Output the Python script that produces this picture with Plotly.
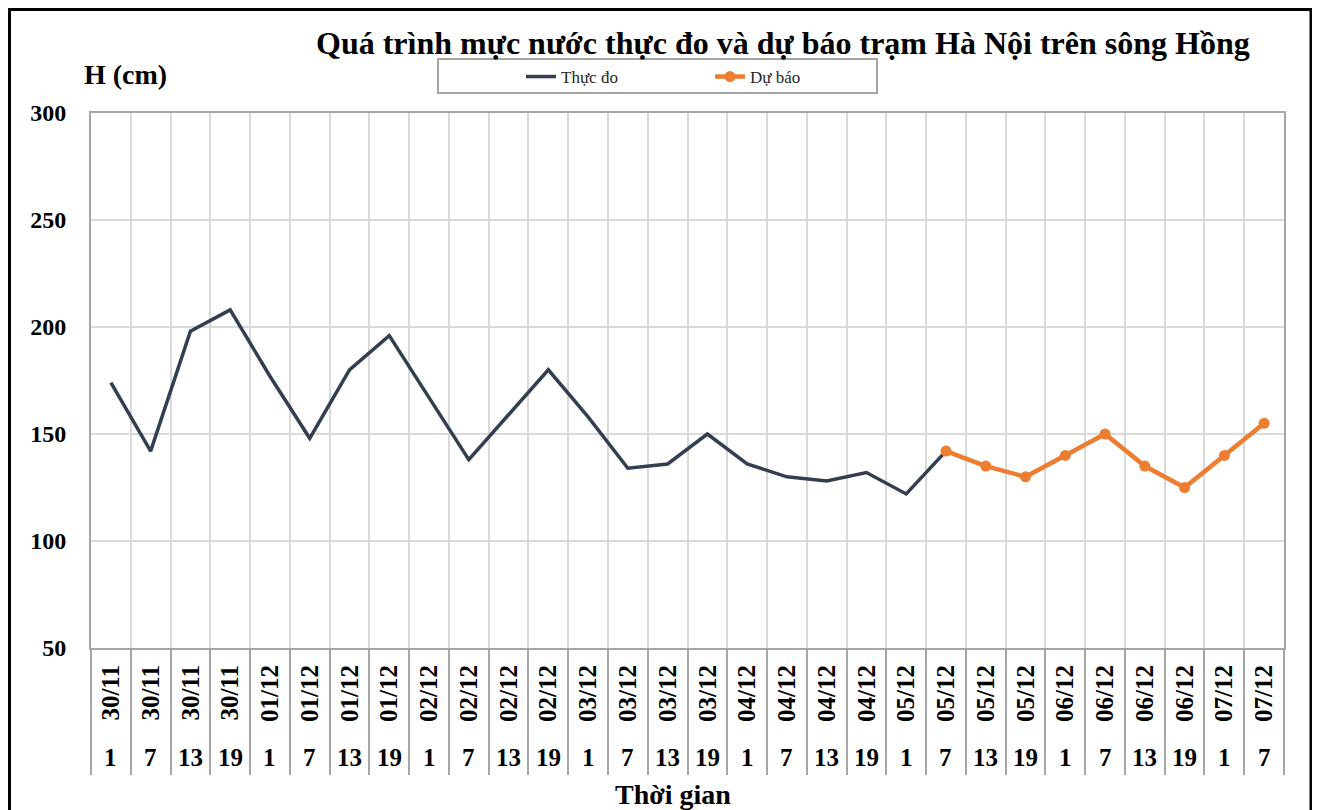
import plotly.graph_objects as go

# ---- data ----
dates = ["30/11", "30/11", "30/11", "30/11", "01/12", "01/12", "01/12", "01/12",
         "02/12", "02/12", "02/12", "02/12", "03/12", "03/12", "03/12", "03/12",
         "04/12", "04/12", "04/12", "04/12", "05/12", "05/12", "05/12", "05/12",
         "06/12", "06/12", "06/12", "06/12", "07/12", "07/12"]
hours = ["1", "7", "13", "19"] * 7 + ["1", "7"]

measured = [174, 142, 198, 208, 177, 148, 180, 196, 167, 138, 159, 180,
            158, 134, 136, 150, 136, 130, 128, 132, 122, 142]
forecast = [142, 135, 130, 140, 150, 135, 125, 140, 155]

title_text = "Quá trình mực nước thực đo và dự báo trạm Hà Nội trên sông Hồng"
y_title = "H (cm)"
x_title = "Thời gian"
series_names = ["Thực đo", "Dự báo"]

# ---- layout geometry (pixels) ----
OFF = 8  # page body margin: figure origin sits at screen (8, 8)
W, H = 1320, 810
SL, SR, ST, SB = 91, 1284, 113, 648  # plot area in screen pixels
L, T = SL - OFF, ST - OFF
R = W - (SR - OFF)
B = H - (SB - OFF)
pw, ph = SR - SL, SB - ST


def px_x(sx):
    return (sx - SL) / pw


def px_y(sy):
    return (SB - sy) / ph


FONT = "Liberation Serif"

n = len(dates)
idx = list(range(n))
x_meas = idx[:len(measured)]
x_fc = idx[n - len(forecast):]

fig = go.Figure()
fig.add_trace(go.Scatter(
    x=x_meas, y=measured, mode="lines", name=series_names[0],
    line=dict(color="#333F50", width=3.5),
))
fig.add_trace(go.Scatter(
    x=x_fc, y=forecast, mode="lines+markers", name=series_names[1],
    line=dict(color="#ED7D31", width=4.5),
    marker=dict(color="#ED7D31", size=11),
))

annotations = [
    dict(text=title_text, x=px_x(783), y=px_y(43), xref="paper", yref="paper",
         showarrow=False, xanchor="center", yanchor="middle",
         font=dict(family=FONT, size=32, color="black", weight="bold")),
    dict(text=y_title, x=px_x(125), y=px_y(74), xref="paper", yref="paper",
         showarrow=False, xanchor="center", yanchor="middle",
         font=dict(family=FONT, size=28, color="black", weight="bold")),
    dict(text=x_title, x=px_x(673), y=px_y(794), xref="paper", yref="paper",
         showarrow=False, xanchor="center", yanchor="middle",
         font=dict(family=FONT, size=28, color="black", weight="bold")),
]
for i, h in enumerate(hours):
    annotations.append(dict(
        text=h, x=i, y=px_y(757), xref="x", yref="paper", showarrow=False,
        xanchor="center", yanchor="middle",
        font=dict(family=FONT, size=25, color="black", weight="bold")))

shapes = [
    # legend box
    dict(type="rect", xref="paper", yref="paper",
         x0=px_x(438), x1=px_x(877), y0=px_y(93), y1=px_y(59),
         line=dict(color="#A6A6A6", width=2), fillcolor="white", layer="below"),
    # outer chart border
    dict(type="rect", xref="paper", yref="paper",
         x0=px_x(9.5), x1=px_x(1311), y0=px_y(830), y1=px_y(9.5),
         line=dict(color="black", width=3), fillcolor="rgba(0,0,0,0)"),
]

fig.update_layout(
    width=W, height=H, autosize=False,
    margin=dict(l=L, r=R, t=T, b=B),
    paper_bgcolor="white", plot_bgcolor="white",
    showlegend=True,
    legend=dict(orientation="h", x=px_x(521), xanchor="left",
                y=px_y(77), yanchor="middle",
                entrywidth=144, entrywidthmode="pixels",
                bgcolor="rgba(0,0,0,0)", borderwidth=0,
                font=dict(family=FONT, size=17, color="#262626")),
    annotations=annotations,
    shapes=shapes,
    xaxis=dict(
        range=[-0.5, n - 0.5], tickmode="array", tickvals=idx, ticktext=dates,
        tickangle=-90, ticks="", showgrid=False, zeroline=False,
        showline=True, mirror=True, linecolor="#A6A6A6", linewidth=2,
        ticklabelstandoff=5,
        tickfont=dict(family=FONT, size=25, color="black", weight="bold"),
        minor=dict(tickmode="array", tickvals=[i - 0.5 for i in range(n + 1)],
                   showgrid=True, gridcolor="#D9D9D9", gridwidth=1.5,
                   ticks="outside", ticklen=125, tickcolor="#A6A6A6", tickwidth=1.5),
    ),
    yaxis=dict(
        range=[50, 300], tickmode="linear", tick0=50, dtick=50,
        showgrid=True, gridcolor="#D9D9D9", gridwidth=1.5, zeroline=False,
        showline=True, mirror=True, linecolor="#A6A6A6", linewidth=2,
        ticks="", ticklabelstandoff=18,
        tickfont=dict(family=FONT, size=24, color="black", weight="bold"),
    ),
)

fig.write_html("out.html")
